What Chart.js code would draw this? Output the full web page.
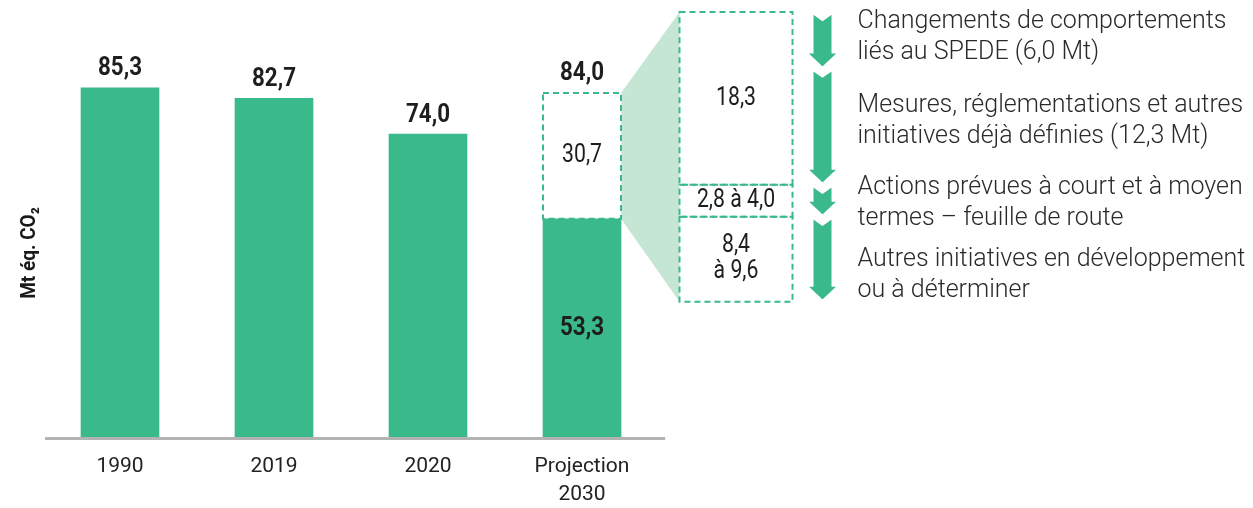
<!DOCTYPE html>
<html><head><meta charset="utf-8">
<script src="https://cdn.jsdelivr.net/npm/chart.js@4/dist/chart.umd.min.js"></script>
<style>html,body{margin:0;padding:0;background:#fff}#wrap{width:1253px;height:508px;position:relative}</style>
</head><body><div id="wrap"><canvas id="c" width="1253" height="508"></canvas></div>
<script>
// ---- data ----
const categories = ['1990', '2019', '2020', ['Projection', '2030'], ''];
const emissions = [85.3, 82.7, 74.0, 53.3, null];
const reductionGap = [null, null, null, 30.7, null];
// breakdown of the 30.7 Mt gap, bottom to top (ranges drawn at their middle)
const breakdownValues = [9.0, 3.4, 18.3];
const breakdownLabels = [['8,4', 'à 9,6'], ['2,8 à 4,0'], ['18,3']];
// arrows, top to bottom
const arrowValues = [6.0, 12.3, 3.4, 9.0];
const arrowTexts = [
  ['Changements de comportements', 'liés au SPEDE (6,0 Mt)'],
  ['Mesures, réglementations et autres', 'initiatives déjà définies (12,3 Mt)'],
  ['Actions prévues à court et à moyen', 'termes – feuille de route'],
  ['Autres initiatives en développement', 'ou à déterminer']
];
const yAxisTitle = 'Mt éq. CO₂';

// ---- style ----
const GREEN = '#3ab98a';
const LIGHT = '#c6e6d5';
const TXT = '#1e1e1e';
const FONT = 'Roboto, "Liberation Sans", Arial, sans-serif';
const textLineY = [22, 106, 188, 260];

const fmt = v => v.toFixed(1).replace('.', ',');

function drawText(ctx, text, x, y, font, color, sx, align, rot) {
  ctx.save();
  ctx.font = font;
  ctx.fillStyle = color;
  ctx.textBaseline = 'middle';
  ctx.textAlign = align || 'center';
  ctx.translate(x, y);
  if (rot) ctx.rotate(rot);
  ctx.scale(sx, 1);
  ctx.fillText(text, 0, 0);
  ctx.restore();
}

const decor = {
  id: 'decor',
  beforeDatasetsDraw(chart) {
    const ctx = chart.ctx;
    const gap = chart.getDatasetMeta(1).data[3];
    const top = chart.getDatasetMeta(4).data[4];
    const bot = chart.getDatasetMeta(2).data[4];
    const gx = gap.x + gap.width / 2;
    const bx = top.x - top.width / 2;
    ctx.save();
    ctx.fillStyle = LIGHT;
    ctx.beginPath();
    ctx.moveTo(gx, gap.y);
    ctx.lineTo(bx, top.y);
    ctx.lineTo(bx, bot.base);
    ctx.lineTo(gx, gap.base);
    ctx.closePath();
    ctx.fill();
    ctx.restore();
    // axis line
    const xs = chart.scales.x;
    const step = xs.getPixelForValue(1) - xs.getPixelForValue(0);
    ctx.save();
    ctx.strokeStyle = '#b3b3b3';
    ctx.lineWidth = 3;
    ctx.beginPath();
    ctx.moveTo(chart.chartArea.left + 2, chart.chartArea.bottom + 1.5);
    ctx.lineTo(xs.getPixelForValue(3) + step * 0.54, chart.chartArea.bottom + 1.5);
    ctx.stroke();
    ctx.restore();
    // y axis title
    drawText(ctx, yAxisTitle, 30, chart.chartArea.bottom - 184, 'bold 20px ' + FONT, '#1a1a1a', 0.95, 'center', -Math.PI / 2);
  },
  afterDatasetsDraw(chart) {
    const ctx = chart.ctx;
    // dashed boxes
    const boxes = [chart.getDatasetMeta(1).data[3], chart.getDatasetMeta(2).data[4],
                   chart.getDatasetMeta(3).data[4], chart.getDatasetMeta(4).data[4]];
    ctx.save();
    ctx.strokeStyle = GREEN;
    ctx.lineWidth = 2;
    ctx.setLineDash([6, 4]);
    boxes.forEach(b => {
      ctx.strokeRect(b.x - b.width / 2, b.y, b.width, b.base - b.y);
    });
    ctx.restore();

    const boldF = 'bold 26px ' + FONT;
    const normF = '25px ' + FONT;
    const m0 = chart.getDatasetMeta(0);
    emissions.forEach((v, i) => {
      if (v === null) return;
      const el = m0.data[i];
      if (reductionGap[i] === null) {
        drawText(ctx, fmt(v), el.x, el.y - 19, boldF, TXT, 0.86);
      } else {
        drawText(ctx, fmt(v), el.x, (el.y + el.base) / 2 + 1, boldF, TXT, 0.86);
        const g = chart.getDatasetMeta(1).data[i];
        drawText(ctx, fmt(reductionGap[i]), g.x, (g.y + g.base) / 2, normF, TXT, 0.85);
        drawText(ctx, fmt(v + reductionGap[i]), g.x, g.y - 20, boldF, TXT, 0.86);
      }
    });
    breakdownLabels.forEach((lines, k) => {
      const el = chart.getDatasetMeta(2 + k).data[4];
      const cy = (el.y + el.base) / 2;
      const lh = 26;
      lines.forEach((t, j) => {
        drawText(ctx, t, el.x, cy + (j - (lines.length - 1) / 2) * lh, normF, TXT, 0.85);
      });
    });

    // arrows
    const y2 = chart.scales.y2;
    const total = arrowValues.reduce((a, b) => a + b, 0);
    const tb = chart.getDatasetMeta(4).data[4];
    const ax = tb.x + tb.width / 2 + 30;
    let cum = 0;
    ctx.save();
    ctx.fillStyle = GREEN;
    ctx.strokeStyle = '#fff';
    ctx.lineWidth = 2;
    ctx.lineJoin = 'miter';
    arrowValues.forEach((v, i) => {
      const yT = y2.getPixelForValue(total - cum) + 1;
      cum += v;
      const yB = y2.getPixelForValue(total - cum) - 1;
      const sw = 10, hw = 16, hl = 15, nd = 7;
      ctx.beginPath();
      ctx.moveTo(ax - sw, yT);
      ctx.lineTo(ax, yT + nd);
      ctx.lineTo(ax + sw, yT);
      ctx.lineTo(ax + sw, yB - hl);
      ctx.lineTo(ax + hw, yB - hl);
      ctx.lineTo(ax, yB);
      ctx.lineTo(ax - hw, yB - hl);
      ctx.lineTo(ax - sw, yB - hl);
      ctx.closePath();
      ctx.fill();
      ctx.stroke();
    });
    ctx.restore();

    // arrow texts
    const tx = ax + 35;
    arrowTexts.forEach((lines, i) => {
      lines.forEach((t, j) => {
        drawText(ctx, t, tx, textLineY[i] + j * 30.5, '300 25px ' + FONT, '#2a2a2a', 1, 'left');
      });
    });
  }
};

const bdSets = breakdownValues.map((v, k) => ({
  label: 'bd' + k,
  data: categories.map((c, i) => i === categories.length - 1 ? v : null),
  yAxisID: 'y2', stack: 's', backgroundColor: 'rgba(255,255,255,0)',
  borderWidth: 0, barThickness: 113, skipNull: true
}));

new Chart(document.getElementById('c'), {
  type: 'bar',
  data: {
    labels: categories,
    datasets: [
      { label: 'Émissions', data: emissions, yAxisID: 'y', stack: 's', backgroundColor: GREEN,
        borderWidth: 0, barThickness: 78, skipNull: true },
      { label: 'Écart', data: reductionGap, yAxisID: 'y', stack: 's', backgroundColor: '#ffffff',
        borderWidth: 0, barThickness: 78, skipNull: true },
      ...bdSets
    ]
  },
  options: {
    responsive: false,
    animation: false,
    events: [],
    layout: { padding: { left: 43, right: 440, top: 12, bottom: -17 } },
    plugins: { legend: { display: false }, tooltip: { enabled: false } },
    scales: {
      x: {
        grid: { display: false, drawTicks: false }, border: { display: false },
        ticks: { color: '#222', padding: 16, font: { family: FONT, size: 21, lineHeight: 1.3333 } }
      },
      y: {
        stacked: true, min: 0, max: 103.8, display: false
      },
      y2: { stacked: true, display: false, min: -14.34, max: 30.7 }
    }
  },
  plugins: [decor]
});
</script>
</body></html>
